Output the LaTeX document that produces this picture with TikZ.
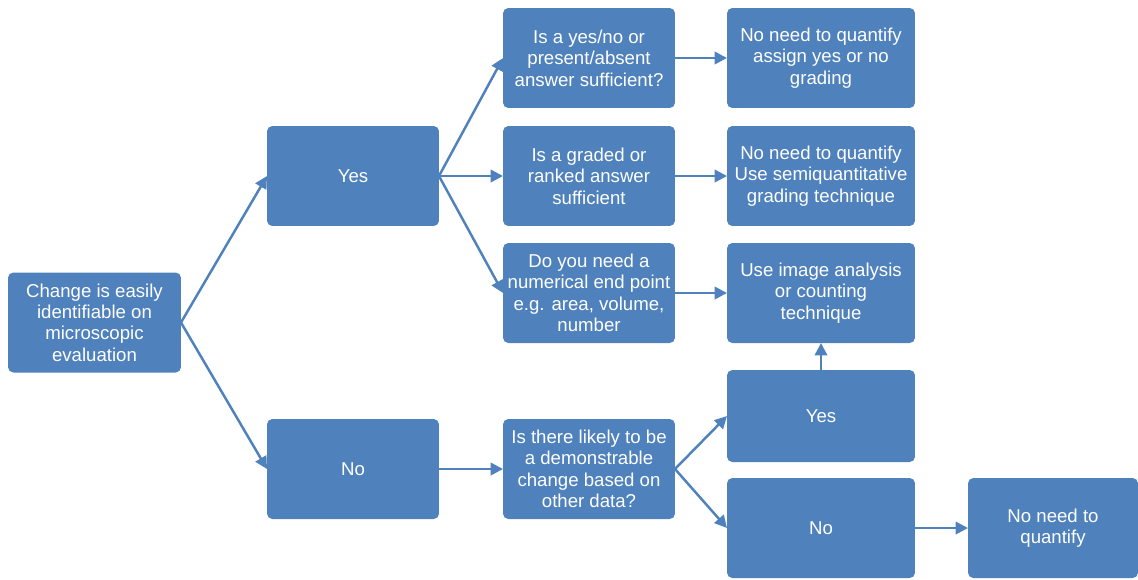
\documentclass[tikz,border=0pt]{standalone}
\usepackage{fontspec}
\setmainfont{Liberation Sans}
\usetikzlibrary{arrows.meta}
\definecolor{boxblue}{HTML}{4F81BD}
\begin{document}
\begin{tikzpicture}[x=0.02cm,y=-0.02cm,
  box/.style={fill=boxblue, draw=none, rounded corners=3pt, text=white, align=center,
    inner sep=0pt, outer sep=0pt, font=\fontsize{10.6}{12.2}\selectfont},
  bw/.style={minimum width=3.44cm, minimum height=2cm},
  rw/.style={minimum width=3.76cm, minimum height=2cm},
  arr/.style={draw=boxblue, line width=1.4pt, -{Triangle[length=7pt,width=7pt]}}]
\useasboundingbox (0,0) rectangle (1138,579);
\node[box, minimum width=3.46cm, minimum height=2cm] (A) at (94.5,322.5) {Change is easily\\identifiable on\\microscopic\\evaluation};
\node[box,bw] (Y1) at (353,176) {Yes};
\node[box,bw] (N1) at (353,469) {No};
\node[box,bw] (Q1) at (589,58) {Is a yes/no or\\present/absent\\answer sufficient?};
\node[box,bw] (Q2) at (589,176) {Is a graded or\\ranked answer\\sufficient};
\node[box,bw] (Q3) at (589,293) {Do you need a\\numerical end point\\e.g. area, volume,\\number};
\node[box,bw] (Q4) at (589,469) {Is there likely to be\\a demonstrable\\change based on\\other data?};
\node[box,rw] (R1) at (821,58) {No need to quantify\\assign yes or no\\grading};
\node[box,rw] (R2) at (821,176) {No need to quantify\\Use semiquantitative\\grading technique};
\node[box,rw] (R3) at (821,293) {Use image analysis\\or counting\\technique};
\node[box,rw, minimum height=1.84cm] (Y2) at (821,416) {Yes};
\node[box,rw] (N2) at (821,528) {No};
\node[box, minimum width=3.4cm, minimum height=2cm] (R4) at (1053,528) {No need to\\quantify};
\draw[arr] (A.east) -- (Y1.west);
\draw[arr] (A.east) -- (N1.west);
\draw[arr] (Y1.east) -- (Q1.west);
\draw[arr] (Y1.east) -- (Q2.west);
\draw[arr] (Y1.east) -- (Q3.west);
\draw[arr] (Q1.east) -- (R1.west);
\draw[arr] (Q2.east) -- (R2.west);
\draw[arr] (Q3.east) -- (R3.west);
\draw[arr] (N1.east) -- (Q4.west);
\draw[arr] (Q4.east) -- (Y2.west);
\draw[arr] (Q4.east) -- (N2.west);
\draw[arr] (Y2.north) -- (R3.south);
\draw[arr] (N2.east) -- (R4.west);
\end{tikzpicture}
\end{document}
